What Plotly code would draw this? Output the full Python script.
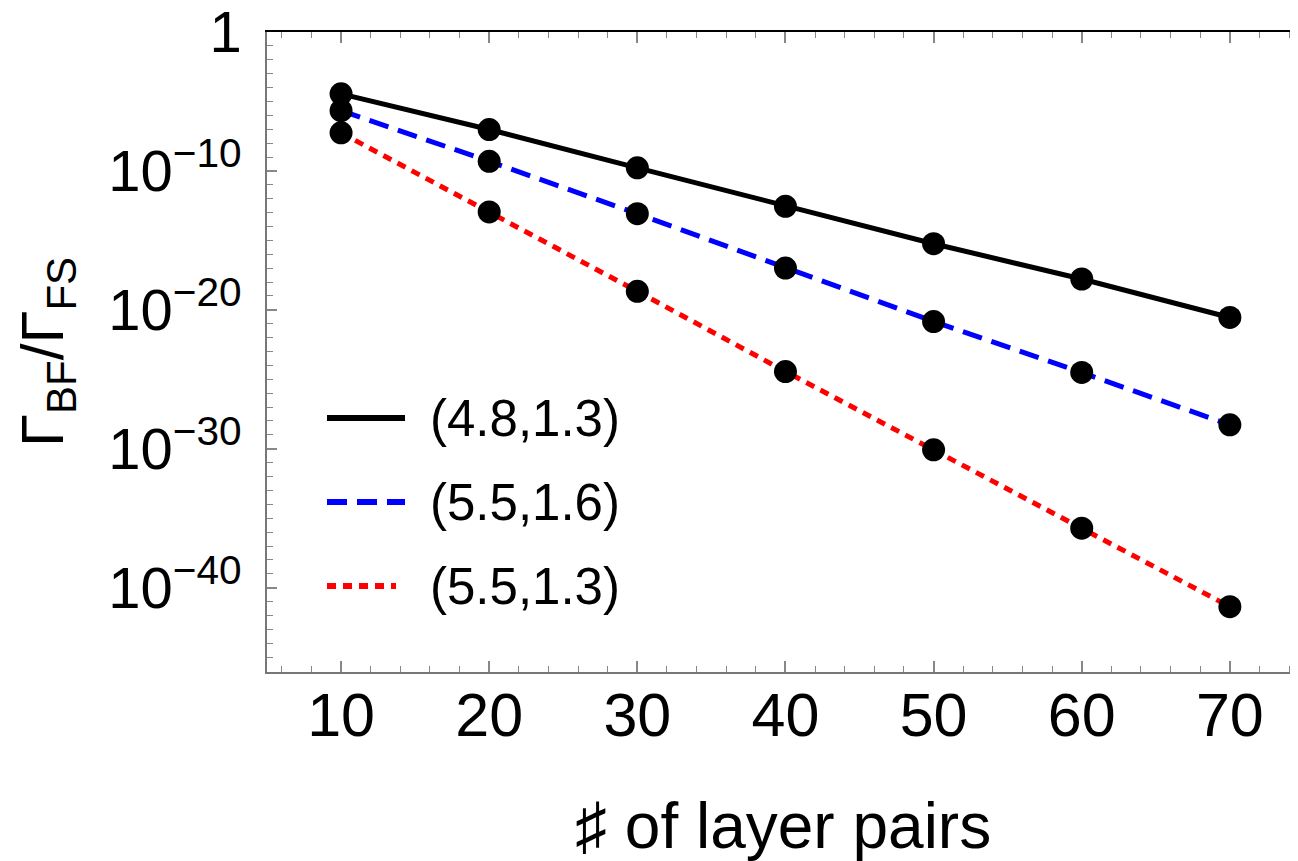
import plotly.graph_objects as go

# ---- data ----
layers = [10, 20, 30, 40, 50, 60, 70]
log_48_13 = [-4.45, -7.02, -9.78, -12.55, -15.24, -17.78, -20.55]
log_55_16 = [-5.66, -9.31, -13.08, -16.99, -20.84, -24.51, -28.28]
log_55_13 = [-7.26, -12.95, -18.67, -24.44, -30.08, -35.72, -41.37]
series_names = ["(4.8,1.3)", "(5.5,1.6)", "(5.5,1.3)"]
series_colors = ["#000000", "#0000ff", "#ff0000"]
series_dash = ["solid", "20px,10px", "9px,7px"]
x_ticks = [10, 20, 30, 40, 50, 60, 70]
y_tick_exps = [0, -10, -20, -30, -40]
y_tick_text = ["1", "10<sup>−10</sup>", "10<sup>−20</sup>", "10<sup>−30</sup>", "10<sup>−40</sup>"]

FONT = "Liberation Sans, Arial, Helvetica, sans-serif"
OFF = 8  # page body margin
W, H = 1298 - OFF, 861 - OFF
L, T = 267 - OFF, 32 - OFF
B = H - (672 - OFF)
PW, PH = W - L, H - T - B


def px_x(p):  # screenshot pixel -> paper x
    return (p - OFF - L) / PW


def px_y(p):  # screenshot pixel -> paper y
    return 1 - (p - OFF - T) / PH


series = [log_48_13, log_55_16, log_55_13]
fig = go.Figure()
for vals, name, col, dash in zip(series, series_names, series_colors, series_dash):
    fig.add_trace(go.Scatter(
        x=layers, y=[10 ** v for v in vals], mode="lines", name=name,
        line=dict(color=col, width=5, dash=dash), showlegend=False))
for vals, name in zip(series, series_names):
    fig.add_trace(go.Scatter(
        x=layers, y=[10 ** v for v in vals], mode="markers", name=name,
        marker=dict(color="black", size=23), showlegend=False))
# empty traces so the frame axes (top / right) get drawn
fig.add_trace(go.Scatter(x=[None], y=[None], xaxis="x2", yaxis="y", showlegend=False,
                         hoverinfo="skip"))
fig.add_trace(go.Scatter(x=[None], y=[None], xaxis="x", yaxis="y2", showlegend=False,
                         hoverinfo="skip"))

# manual legend (line samples + labels)
leg_y_px = [418, 502, 586]
for i, (name, col, dash) in enumerate(zip(series_names, series_colors, series_dash)):
    yp = px_y(leg_y_px[i])
    x1 = 405 if i < 2 else 396
    fig.add_shape(type="line", xref="paper", yref="paper",
                  x0=px_x(327), x1=px_x(x1), y0=yp, y1=yp,
                  line=dict(color=col, width=6, dash=dash))
    fig.add_annotation(xref="paper", yref="paper", x=px_x(428), y=yp,
                       xanchor="left", yanchor="middle", showarrow=False,
                       text=name, font=dict(family=FONT, size=51, color="black"))

minor_y = [10.0 ** (-k) for k in range(1, 47) if k % 10 != 0]
XR = [5.0, 74.6]

common = dict(automargin=False, showgrid=False, zeroline=False)
fig.update_layout(
    width=W, height=H,
    margin=dict(l=L, r=0, t=T, b=B, autoexpand=False),
    paper_bgcolor="white", plot_bgcolor="white",
    font=dict(family=FONT, size=60, color="black"),
    showlegend=False,
    xaxis=dict(range=XR, tickvals=x_ticks, ticks="inside", ticklen=11,
               tickwidth=1.5, tickcolor="#888888", showline=True, linecolor="#777777",
               linewidth=1.5, tickfont=dict(family=FONT, size=61), ticklabelstandoff=-11,
               ticklabeloverflow="allow",
               minor=dict(dtick=2, tick0=0, ticks="inside", ticklen=6, tickcolor="#888888",
                          tickwidth=1.2, showgrid=False), **common),
    xaxis2=dict(overlaying="x", side="top", anchor="y", range=XR,
                tickvals=x_ticks, ticks="inside", ticklen=11, tickwidth=1.5,
                tickcolor="#888888", showline=True, linecolor="black", linewidth=1.5,
                showticklabels=False,
                minor=dict(dtick=2, tick0=0, ticks="inside", ticklen=6, tickcolor="#888888",
                           tickwidth=1.2, showgrid=False), **common),
    yaxis=dict(type="log", range=[-46.07, 0], tickvals=[10.0 ** e for e in y_tick_exps],
               ticktext=y_tick_text, ticks="inside", ticklen=10, tickwidth=1.5,
               tickcolor="#888888", showline=True, linecolor="#777777", linewidth=1.5,
               tickfont=dict(family=FONT, size=58), ticklabelstandoff=12,
               ticklabeloverflow="allow",
               minor=dict(tickvals=minor_y, ticks="inside", ticklen=6, tickcolor="#888888",
                          tickwidth=1.2, showgrid=False), **common),
    yaxis2=dict(overlaying="y", side="right", anchor="x", range=[0, PH / 121.0],
                tick0=(PH / 121.0) % 1, dtick=1, ticks="inside", ticklen=7, tickwidth=1.5,
                tickcolor="#333333", showline=False, showticklabels=False,
                minor=dict(dtick=0.25, ticks="inside", ticklen=3, tickcolor="#555555",
                           tickwidth=1.2, showgrid=False), **common),
)

# axis titles
fig.add_annotation(xref="paper", yref="paper", x=px_x(47), y=0.5,
                   xanchor="center", yanchor="middle", showarrow=False, textangle=-90,
                   text="Γ<sub>BF</sub>/Γ<sub>FS</sub>",
                   font=dict(family=FONT, size=60, color="black"))
fig.add_annotation(xref="paper", yref="paper", x=0.5, y=px_y(826),
                   xanchor="center", yanchor="middle", showarrow=False,
                   text="♯ of layer pairs", font=dict(family=FONT, size=64, color="black"))

fig.write_html("out.html")
